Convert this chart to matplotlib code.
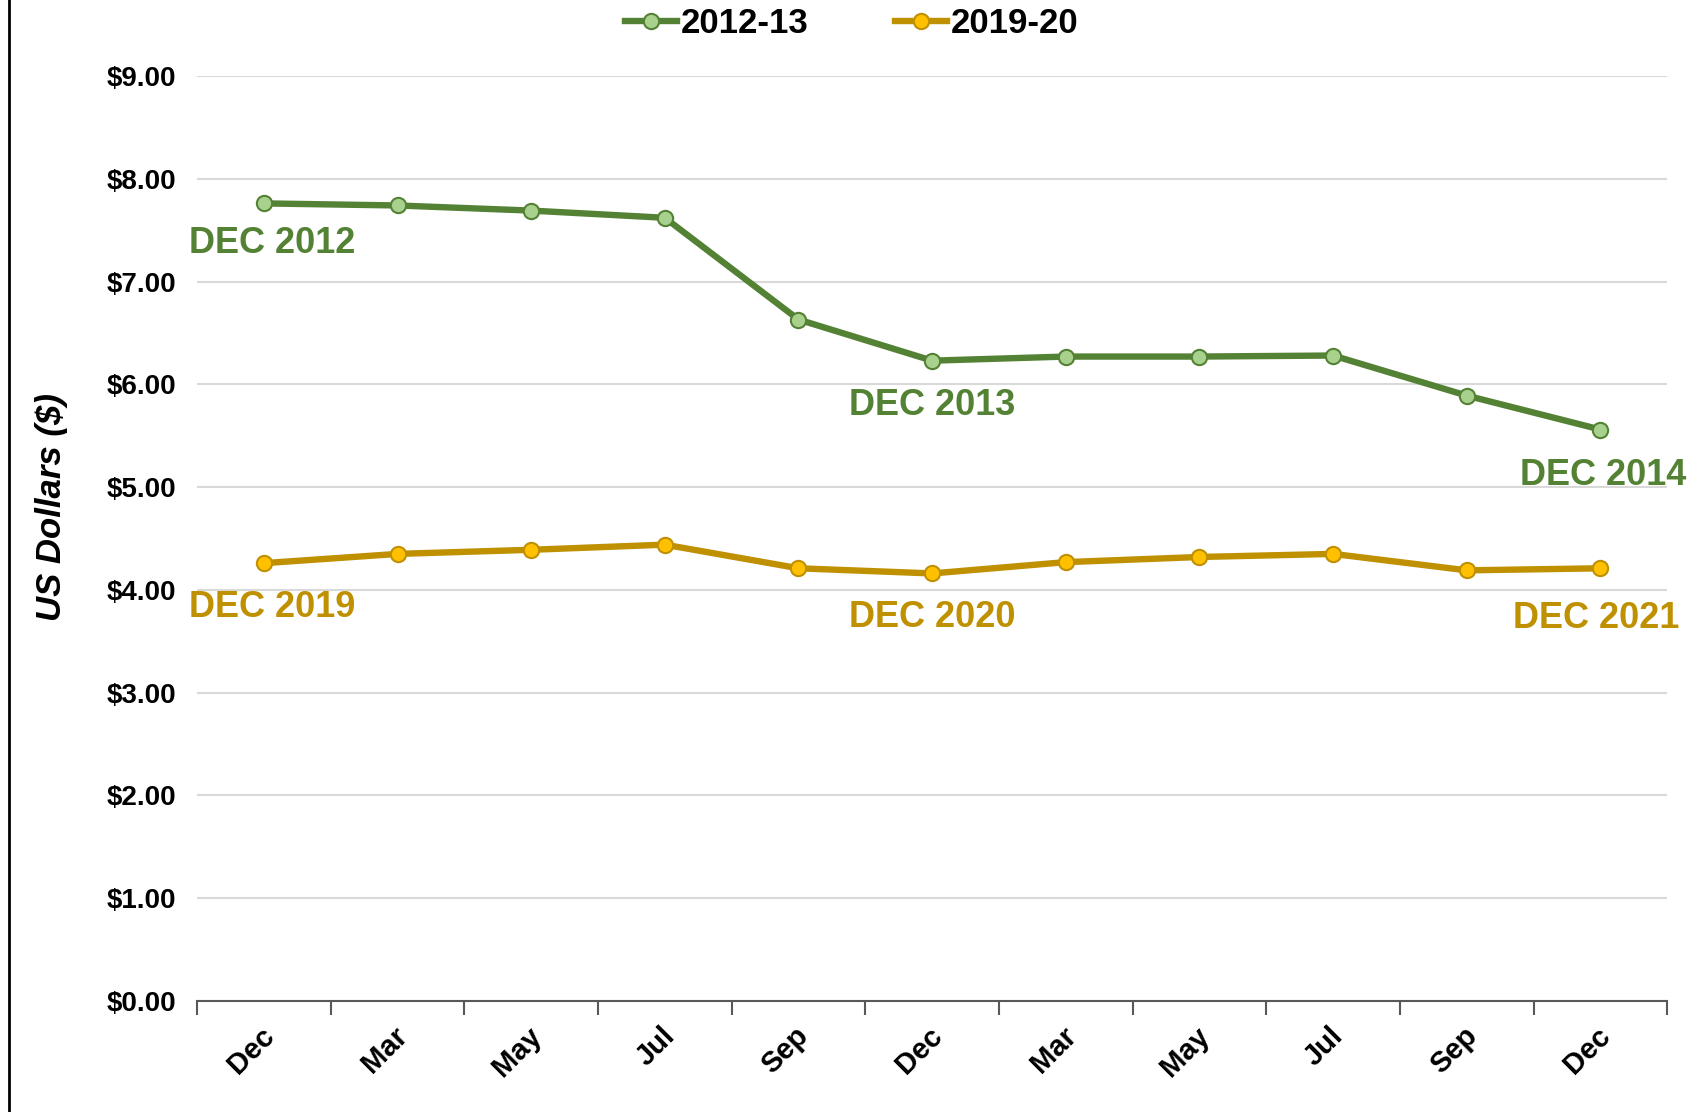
import matplotlib
matplotlib.use("Agg")
import matplotlib.pyplot as plt
import matplotlib.transforms as mtransforms
from matplotlib.lines import Line2D

plt.rcParams['font.family'] = ['Liberation Sans', 'DejaVu Sans']
plt.rcParams['font.weight'] = 'bold'

# data
months = ['Dec', 'Mar', 'May', 'Jul', 'Sep', 'Dec', 'Mar', 'May', 'Jul', 'Sep', 'Dec']
price_2012_13 = [7.76, 7.74, 7.69, 7.62, 6.63, 6.23, 6.27, 6.27, 6.28, 5.89, 5.56]
price_2019_20 = [4.26, 4.35, 4.39, 4.44, 4.21, 4.16, 4.27, 4.32, 4.35, 4.19, 4.21]
y_ticks = [0, 1, 2, 3, 4, 5, 6, 7, 8, 9]

green, green_light = '#548235', '#A9D18E'
gold, gold_light = '#BF9000', '#FFC000'

fig = plt.figure(figsize=(17.03, 11.12), dpi=100)
ax = fig.add_axes([0.1157, 0.0998, 0.979 - 0.1157, 0.9317 - 0.0998])

x = list(range(len(months)))
ax.plot(x, price_2012_13, color=green, lw=4.6, marker='o', ms=11,
        mfc=green_light, mec=green, mew=1.5, label='2012-13', zorder=3)
ax.plot(x, price_2019_20, color=gold, lw=4.6, marker='o', ms=11,
        mfc=gold_light, mec=gold, mew=1.5, label='2019-20', zorder=3)

# year labels
lbl_kw = dict(fontsize=26, fontweight='bold', ha='center', va='center')
ax.text(0.06, 7.37, 'DEC 2012', color=green, **lbl_kw)
ax.text(5.0, 5.79, 'DEC 2013', color=green, **lbl_kw)
ax.text(10.02, 5.11, 'DEC 2014', color=green, **lbl_kw)
ax.text(0.06, 3.83, 'DEC 2019', color=gold, **lbl_kw)
ax.text(5.0, 3.73, 'DEC 2020', color=gold, **lbl_kw)
ax.text(9.97, 3.72, 'DEC 2021', color=gold, **lbl_kw)

ax.set_xlim(-0.5, len(months) - 0.5)
ax.set_ylim(0, 9)
ax.set_yticks(y_ticks)
ax.set_yticklabels(['${:.2f}'.format(v) for v in y_ticks], fontsize=20, fontweight='bold')
ax.tick_params(axis='y', length=0, pad=15)

ax.set_xticks(x)
ax.set_xticklabels(months, rotation=45, ha='right', va='top', rotation_mode='anchor',
                   fontsize=21, fontweight='bold')
ax.set_xticks([i - 0.5 for i in range(len(months) + 1)], minor=True)
ax.tick_params(axis='x', which='major', length=0, pad=15)
ax.tick_params(axis='x', which='minor', length=10, width=1.5, color='#595959', direction='out')
shift = mtransforms.ScaledTranslation(-4 / 100, 0, fig.dpi_scale_trans)
for lab in ax.get_xticklabels():
    lab.set_transform(lab.get_transform() + shift)

ax.grid(axis='y', color='#D9D9D9', lw=1.5)
ax.set_axisbelow(True)
for s in ['top', 'right', 'left']:
    ax.spines[s].set_visible(False)
ax.spines['bottom'].set_color('#595959')
ax.spines['bottom'].set_linewidth(1.5)

ax.set_ylabel('US Dollars ($)', fontsize=25, fontweight='bold', style='italic')
ax.yaxis.set_label_coords(-0.0875, 0.534)

fig.legend(loc='upper center', bbox_to_anchor=(0.5, 1.022), ncol=2, frameon=False,
           prop={'size': 25, 'weight': 'bold'}, handlelength=1.5, handletextpad=0.1,
           columnspacing=2.5)

# left border line of the original frame
fig.add_artist(Line2D([0.0053, 0.0053], [0, 1], color='black', lw=2, transform=fig.transFigure))

fig.savefig('out.png', dpi=100)
